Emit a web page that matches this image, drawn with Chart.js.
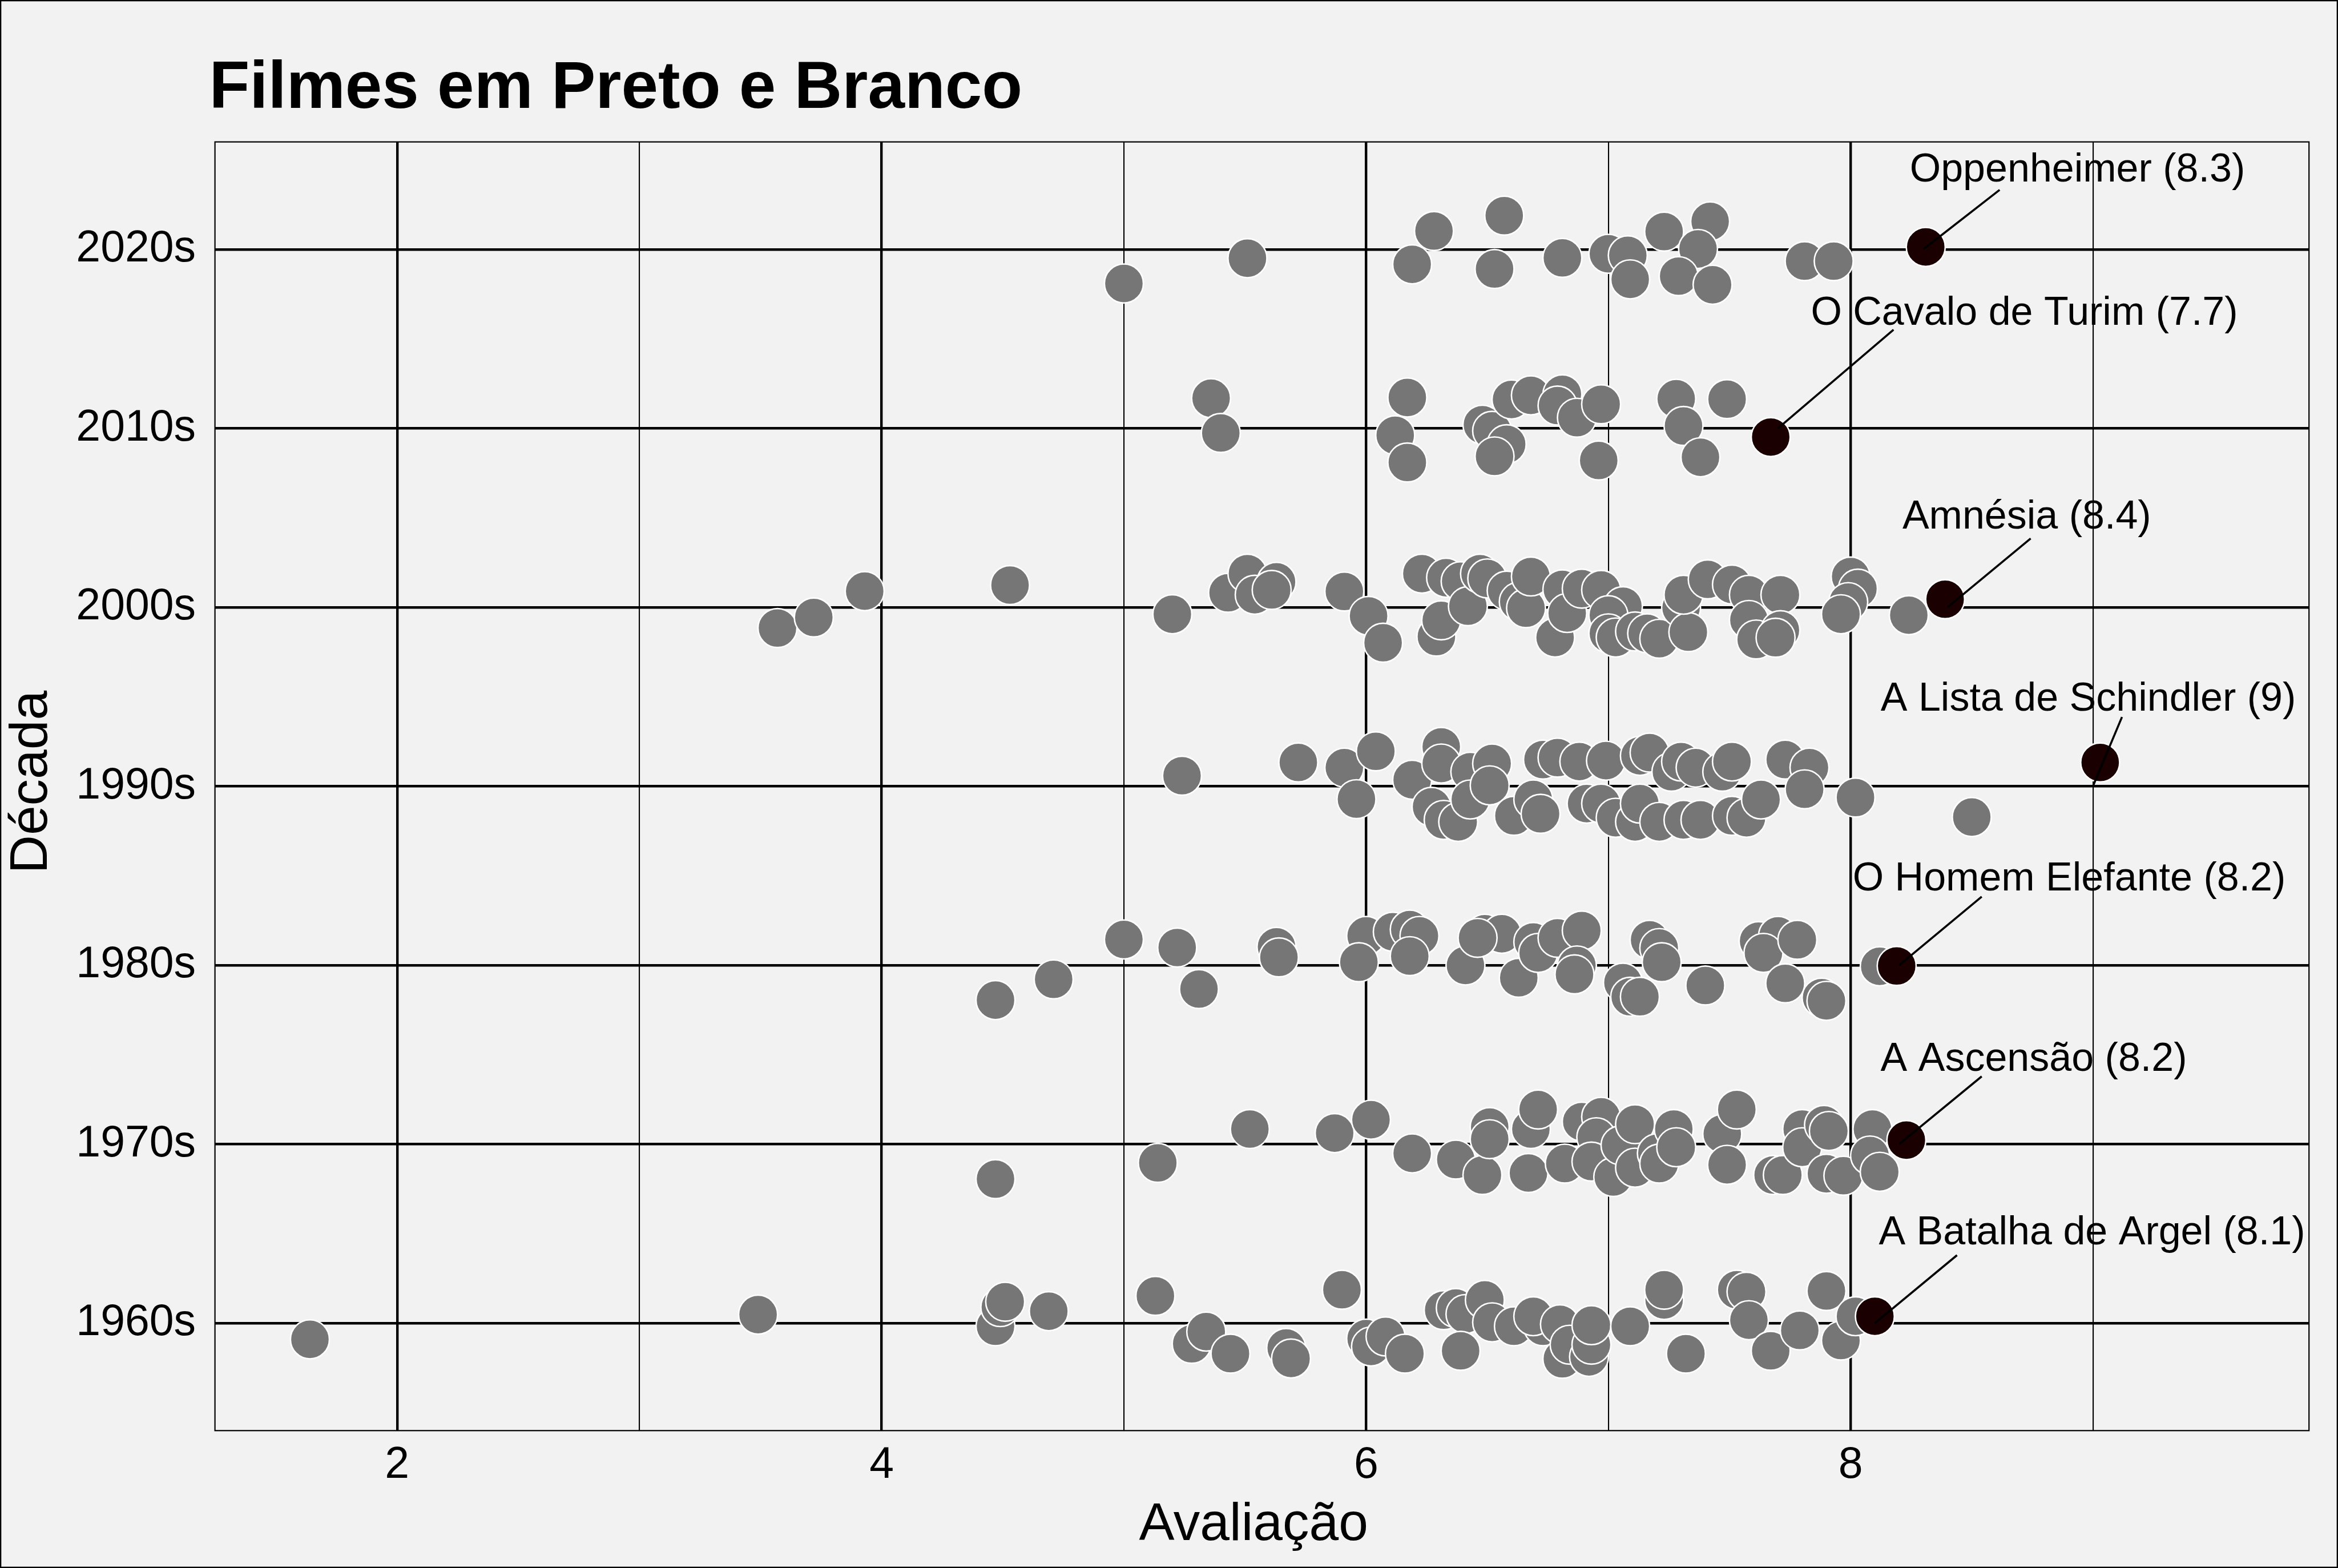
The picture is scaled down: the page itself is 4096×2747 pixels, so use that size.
<!DOCTYPE html>
<html><head><meta charset="utf-8">
<script src="https://cdn.jsdelivr.net/npm/chart.js@4.4.1/dist/chart.umd.min.js"></script>
<style>html,body{margin:0;padding:0;background:#f2f2f2;overflow:hidden}canvas{display:block}</style>
</head><body><canvas id="c" width="4096" height="2747"></canvas>
<script>
// ---- categories / ticks ----
const decades = [1960, 1970, 1980, 1990, 2000, 2010, 2020];
const decadeLabels = ['1960s', '1970s', '1980s', '1990s', '2000s', '2010s', '2020s'];
const xTicks = [2, 3, 4, 5, 6, 7, 8, 9];

// ---- gray points: rating and (jittered) vertical position per decade ----
const rating1960 = [1.64,3.49,4.47,4.49,4.51,4.69,5.13,5.28,5.34,5.44,5.67,5.69,5.90,6.00,6.02,6.08,6.16,6.32,6.37,6.41,6.49,6.52,6.39,6.61,6.73,6.69,6.80,6.81,6.84,6.92,6.93,6.93,7.09,7.23,7.23,7.32,7.53,7.57,7.58,7.67,7.79,7.90,7.96,8.02];
const pos1960    = [1959.10,1960.48,1959.83,1960.90,1961.20,1960.67,1961.53,1958.85,1959.53,1958.30,1958.62,1958.03,1961.87,1959.14,1958.70,1959.26,1958.30,1960.73,1960.85,1960.51,1961.30,1960.05,1958.46,1959.83,1959.83,1960.39,1959.94,1958.01,1958.80,1958.12,1958.80,1959.89,1959.83,1961.30,1961.87,1958.30,1961.87,1961.76,1960.17,1958.46,1959.60,1961.80,1959.03,1960.39];

const rating1970 = [4.47,5.14,5.52,5.87,6.02,6.19,6.37,6.48,6.51,6.51,6.68,6.71,6.67,6.82,6.89,6.97,6.95,6.93,7.02,7.05,7.11,7.11,7.20,7.21,7.27,7.28,7.47,7.53,7.49,7.68,7.72,7.80,7.80,7.89,7.91,7.90,7.97,8.09,8.08,8.12];
const pos1970    = [1968.05,1968.96,1970.85,1970.62,1971.37,1969.49,1969.14,1968.28,1970.96,1970.28,1970.85,1971.94,1968.39,1968.92,1971.26,1971.53,1970.39,1969.03,1968.17,1969.94,1971.12,1968.69,1969.49,1968.92,1970.85,1969.83,1970.58,1971.94,1968.85,1968.28,1968.28,1970.85,1969.83,1971.08,1970.74,1968.35,1968.24,1970.85,1969.37,1968.46];

const rating1980 = [4.47,4.71,5.00,5.22,5.31,5.63,5.64,6.00,5.97,6.11,6.18,6.22,6.18,6.41,6.49,6.56,6.46,6.63,6.69,6.71,6.79,6.89,6.87,6.86,7.06,7.09,7.13,7.17,7.21,7.22,7.40,7.62,7.70,7.64,7.78,7.73,7.88,7.90,8.12];
const pos1980    = [1978.05,1979.21,1981.44,1980.99,1978.67,1981.03,1980.44,1981.64,1980.17,1981.87,1981.99,1981.64,1980.51,1979.99,1981.76,1981.76,1981.53,1979.30,1981.30,1980.69,1981.53,1981.94,1979.99,1979.49,1979.03,1978.24,1978.24,1981.42,1980.96,1980.17,1978.87,1981.35,1981.64,1980.69,1981.42,1978.99,1978.19,1978.01,1979.94];

const rating1990 = [5.24,5.72,5.91,5.96,6.04,6.19,6.31,6.31,6.43,6.52,6.73,6.79,6.88,6.99,7.13,7.17,7.26,7.30,7.36,7.47,7.51,7.73,7.83,6.27,6.32,6.38,6.43,6.51,6.61,6.69,6.72,6.91,6.97,7.03,7.11,7.13,7.21,7.31,7.38,7.51,7.57,7.63,7.81,8.02,8.50];
const pos1990    = [1990.59,1991.33,1991.04,1989.28,1991.95,1990.36,1992.20,1991.27,1990.81,1991.27,1991.49,1991.60,1991.38,1991.43,1991.70,1991.88,1990.81,1991.38,1991.04,1990.81,1991.38,1991.49,1991.04,1988.85,1988.12,1988.01,1989.26,1990.05,1988.35,1989.26,1988.46,1989.03,1989.03,1988.24,1988.01,1989.03,1988.01,1988.12,1988.12,1988.35,1988.24,1989.26,1989.83,1989.37,1988.28];

const rating2000 = [3.57,3.72,3.93,4.53,5.20,5.43,5.51,5.54,5.63,5.61,5.91,6.01,6.07,6.23,6.33,6.39,6.29,6.31,6.42,6.47,6.50,6.58,6.63,6.66,6.68,6.81,6.78,6.83,6.89,6.97,7.06,7.00,7.00,7.03,7.11,7.16,7.21,7.30,7.33,7.31,7.41,7.51,7.58,7.58,7.61,7.71,7.71,7.69,8.00,8.03,7.99,7.96,8.24];
const pos2000    = [1998.84,1999.43,2000.90,2001.24,1999.61,2000.81,2001.88,2000.70,2001.42,2000.97,2000.88,1999.52,1998.02,2001.88,2001.65,2001.45,1998.36,1999.27,2000.06,2001.88,2001.61,2000.93,2000.31,1999.95,2001.72,2001.00,1998.31,1999.68,2001.04,2000.97,2000.06,1999.56,1998.54,1998.31,1998.65,1998.54,1998.24,1999.97,1998.61,2000.70,2001.56,2001.27,2000.70,1999.29,1998.20,2000.70,1998.72,1998.30,2001.72,2001.04,2000.29,1999.61,1999.56];

const rating2010 = [5.36,5.40,6.17,6.12,6.17,6.48,6.52,6.58,6.53,6.60,6.68,6.81,6.79,6.87,6.97,6.96,7.28,7.31,7.38,7.49];
const pos2010    = [2011.68,2009.74,2011.72,2009.61,2008.09,2010.20,2009.86,2009.11,2008.43,2011.61,2011.84,2011.90,2011.27,2010.59,2011.34,2008.20,2011.65,2010.13,2008.38,2011.63];

const rating2020 = [5.00,5.51,6.28,6.19,6.57,6.53,6.81,7.00,7.08,7.09,7.23,7.42,7.37,7.29,7.43,7.81,7.93];
const pos2020    = [2018.09,2019.50,2021.02,2019.16,2021.88,2018.90,2019.52,2019.75,2019.66,2018.32,2020.99,2021.56,2020.02,2018.50,2018.02,2019.34,2019.34];

// ---- highlighted films ----
const hlTitles  = ['Oppenheimer (8.3)', 'O Cavalo de Turim (7.7)', 'Amnésia (8.4)', 'A Lista de Schindler (9)', 'O Homem Elefante (8.2)', 'A Ascensão (8.2)', 'A Batalha de Argel (8.1)'];
const hlRating  = [8.3, 7.7, 8.4, 9.0, 8.2, 8.2, 8.1];
const hlDecade  = [2020, 2010, 2000, 1990, 1980, 1970, 1960];
const hlPointX  = [8.31, 7.67, 8.39, 9.03, 8.19, 8.23, 8.10];
const hlPointY  = [2020.13, 2009.51, 2000.45, 1991.33, 1979.96, 1970.23, 1960.39];
const labelX    = [8.936, 8.717, 8.727, 8.981, 8.902, 8.756, 8.996];
const labelY    = [2024.58, 2016.57, 2005.21, 1995.02, 1984.97, 1974.91, 1965.20];
const segEndX   = [8.615, 8.177, 8.743, 9.120, 8.541, 8.541, 8.439];
const segEndY   = [2023.32, 2015.51, 2003.84, 1993.87, 1983.83, 1973.79, 1963.80];

const grayRatings = [rating1960, rating1970, rating1980, rating1990, rating2000, rating2010, rating2020];
const grayPos = [pos1960, pos1970, pos1980, pos1990, pos2000, pos2010, pos2020];
const grayPoints = [];
grayRatings.forEach((arr, i) => arr.forEach((r, j) => grayPoints.push({x: r, y: grayPos[i][j]})));
const hlPoints = hlPointX.map((x, i) => ({x: x, y: hlPointY[i]}));

const FONT = "'Liberation Sans', Arial, Helvetica, sans-serif";

const decor = {
  id: 'decor',
  beforeDraw(chart) {
    const c = chart.ctx;
    c.save();
    c.fillStyle = '#f2f2f2';
    c.fillRect(0, 0, chart.width, chart.height);
    c.restore();
  },
  afterDatasetsDraw(chart) {
    const c = chart.ctx, xs = chart.scales.x, ys = chart.scales.y;
    c.save();
    c.strokeStyle = '#000';
    c.lineWidth = 3.6;
    c.lineCap = 'butt';
    for (let i = 0; i < hlTitles.length; i++) {
      c.beginPath();
      c.moveTo(xs.getPixelForValue(hlRating[i]), ys.getPixelForValue(hlDecade[i]));
      c.lineTo(xs.getPixelForValue(segEndX[i]), ys.getPixelForValue(segEndY[i]));
      c.stroke();
    }
    c.fillStyle = '#000';
    c.font = '70px ' + FONT;
    c.textAlign = 'center';
    c.textBaseline = 'alphabetic';
    for (let i = 0; i < hlTitles.length; i++) {
      c.fillText(hlTitles[i], xs.getPixelForValue(labelX[i]), ys.getPixelForValue(labelY[i]) + 0.358 * 70);
    }
    c.restore();
  },
  afterDraw(chart) {
    const c = chart.ctx, a = chart.chartArea;
    c.save();
    c.strokeStyle = '#000';
    c.lineWidth = 2.2;
    c.strokeRect(a.left, a.top, a.right - a.left, a.bottom - a.top);
    c.fillStyle = '#000';
    // title
    c.font = 'bold 116px ' + FONT;
    c.textAlign = 'left';
    c.textBaseline = 'alphabetic';
    c.fillText('Filmes em Preto e Branco', 366.4, 188.8);
    // axis titles
    c.font = '93px ' + FONT;
    c.textAlign = 'center';
    c.fillText('Avaliação', 2196.2, 2698.3);
    c.translate(82.2, 1370);
    c.rotate(-Math.PI / 2);
    c.fillText('Década', 0, 0);
    c.restore();
    // outer border
    c.save();
    c.strokeStyle = '#000';
    c.lineWidth = 2.3;
    c.strokeRect(1.15, 1.15, chart.width - 2.3, chart.height - 2.3);
    c.restore();
  }
};

new Chart(document.getElementById('c').getContext('2d'), {
  type: 'scatter',
  data: {
    datasets: [
      { data: grayPoints, order: 2, backgroundColor: '#767676', borderColor: '#ffffff', borderWidth: 2.6, pointRadius: 34.1, pointHoverRadius: 34.1 },
      { data: hlPoints, order: 1, backgroundColor: '#1a0000', borderColor: '#ffffff', borderWidth: 2.6, pointRadius: 34.1, pointHoverRadius: 34.1 }
    ]
  },
  options: {
    responsive: false,
    animation: false,
    devicePixelRatio: 1,
    events: [],
    layout: { padding: { top: 248.6, right: 50.8, left: 0, bottom: 0 } },
    plugins: { legend: { display: false }, title: { display: false }, tooltip: { enabled: false } },
    scales: {
      x: {
        type: 'linear', min: 1.248, max: 9.892,
        afterBuildTicks: s => { s.ticks = xTicks.map(v => ({ value: v })); },
        afterFit: s => { s.height = 240.7; },
        grid: { color: '#000', lineWidth: c => (c.tick && c.tick.value % 2 === 0) ? 4.4 : 2.1, drawTicks: false },
        border: { display: false },
        ticks: { callback: v => (v % 2 === 0 ? String(v) : ''), font: { family: FONT, size: 77, lineHeight: 1.2 }, color: '#000', padding: 15, maxRotation: 0, minRotation: 0, autoSkip: false }
      },
      y: {
        type: 'linear', min: 1954, max: 2026,
        afterBuildTicks: s => { s.ticks = decades.map(v => ({ value: v })); },
        afterFit: s => { s.width = 376.6; },
        grid: { color: '#000', lineWidth: 4.4, drawTicks: false },
        border: { display: false },
        ticks: { callback: v => decadeLabels[decades.indexOf(v)], font: { family: FONT, size: 77, lineHeight: 1.2 }, color: '#000', padding: 33.5, autoSkip: false }
      }
    }
  },
  plugins: [decor]
});
</script>
</body></html>
